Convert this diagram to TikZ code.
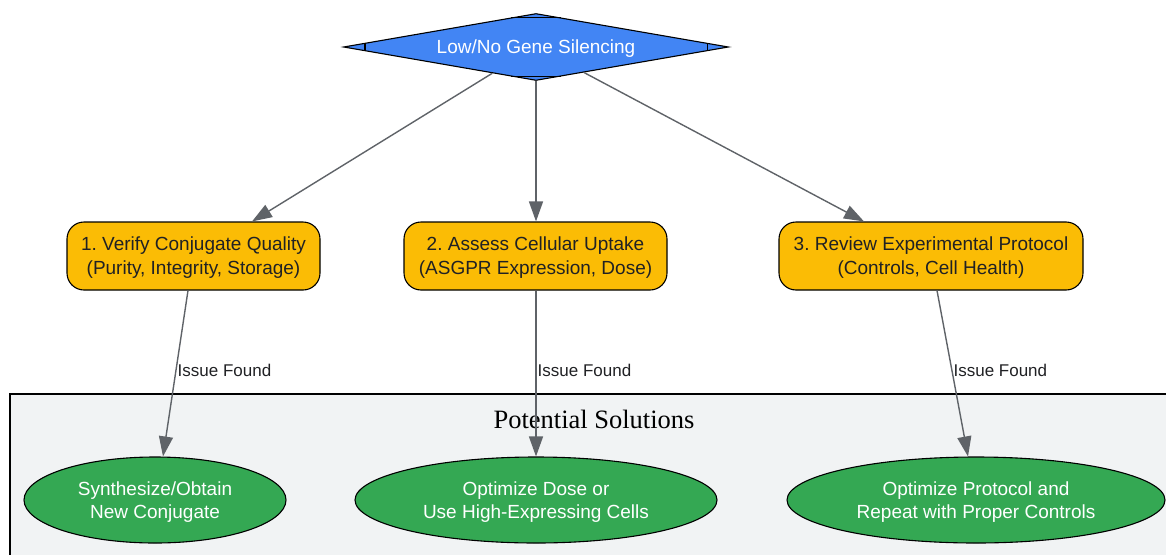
\documentclass[tikz,border=0pt]{standalone}
\usepackage{fontspec}
\setmainfont{Liberation Sans}
\newfontfamily\clusterfont{Liberation Serif}
\usetikzlibrary{shapes.geometric,arrows.meta}
\frenchspacing

\definecolor{gblue}{HTML}{4285F4}
\definecolor{gyellow}{HTML}{FBBC05}
\definecolor{ggreen}{HTML}{34A853}
\definecolor{gedge}{HTML}{5F6368}
\definecolor{gtext}{HTML}{202124}
\definecolor{gcluster}{HTML}{F1F3F4}

\tikzset{every picture/.style={line width=1.1pt}}
\tikzset{
  decision/.style={diamond, draw=black, fill=gblue, text=white, aspect=5.75, inner sep=2pt,
    minimum width=385pt, minimum height=67pt, text depth=0pt, font=\fontsize{19}{24}\selectfont},
  checkbox/.style={rectangle, rounded corners=17pt, draw=black, fill=gyellow, text=gtext,
    align=center, minimum height=68pt, inner sep=2pt, text depth=0pt, font=\fontsize{19}{24}\selectfont},
  fixellipse/.style={ellipse, draw=black, fill=ggreen, text=white, align=center,
    minimum height=86pt, inner sep=0pt, text depth=0pt, font=\fontsize{19}{23}\selectfont},
  flow/.style={draw=gedge, line width=1.4pt, -{Triangle[length=20pt,width=14pt]}},
  found/.style={font=\fontsize{17}{20}\selectfont, text=gtext, anchor=west, inner sep=1pt},
  cluster/.style={draw=black, fill=gcluster, line width=1.2pt}
}

\begin{document}
\begin{tikzpicture}[x=1pt,y=1pt,yscale=-1,xscale=1]
\useasboundingbox (0,0) rectangle (1166,554);
\clip (0,0) rectangle (1166,554);

%Cluster [Potential Solutions]
\draw [cluster] (10,394) rectangle (1190,580);
\node [font=\clusterfont\fontsize{26.5}{30}\selectfont, text=black] (title) at (594,419) {Potential Solutions};

%Decision
\node [decision] (d) at (536,47) {Low/No Gene Silencing};
\draw ([xshift=22pt,yshift=3.8pt]d.west) -- ([xshift=22pt,yshift=-3.8pt]d.west);
\draw ([xshift=-22pt,yshift=3.8pt]d.east) -- ([xshift=-22pt,yshift=-3.8pt]d.east);
\draw ([xshift=-25pt,yshift=4.4pt]d.north) -- ([xshift=25pt,yshift=4.4pt]d.north);
\draw ([xshift=-25pt,yshift=-4.4pt]d.south) -- ([xshift=25pt,yshift=-4.4pt]d.south);

%Checks
\node [checkbox, minimum width=253pt] (b1) at (193.5,256) {1. Verify Conjugate Quality\\(Purity, Integrity, Storage)};
\node [checkbox, minimum width=263pt] (b2) at (535.5,256) {2. Assess Cellular Uptake\\(ASGPR Expression, Dose)};
\node [checkbox, minimum width=304pt] (b3) at (931,256) {3. Review Experimental Protocol\\(Controls, Cell Health)};

%Solutions
\node [fixellipse, minimum width=262pt] (e1) at (155,500) {Synthesize/Obtain\\New Conjugate};
\node [fixellipse, minimum width=362pt] (e2) at (536,500) {Optimize Dose or\\Use High-Expressing Cells};
\node [fixellipse, minimum width=378pt] (e3) at (976,500) {Optimize Protocol and\\Repeat with Proper Controls};

%Straight Lines
\draw [flow] (d.211) -- ([xshift=58.5pt]b1.north);
\draw [flow] (d.south) -- (d.south |- b2.north);
\draw [flow] (d.332) -- ([xshift=-67pt]b3.north);

\draw [flow] ([xshift=-5.5pt]b1.south) -- node [found, pos=0.48] {Issue Found} ([xshift=8pt]e1.north);
\draw [flow] ([xshift=0.5pt]b2.south) -- node [found, pos=0.48] {Issue Found} (e2.north);
\draw [flow] ([xshift=6pt]b3.south) -- node [found, pos=0.48] {Issue Found} ([xshift=-8pt]e3.north);

\end{tikzpicture}
\end{document}
